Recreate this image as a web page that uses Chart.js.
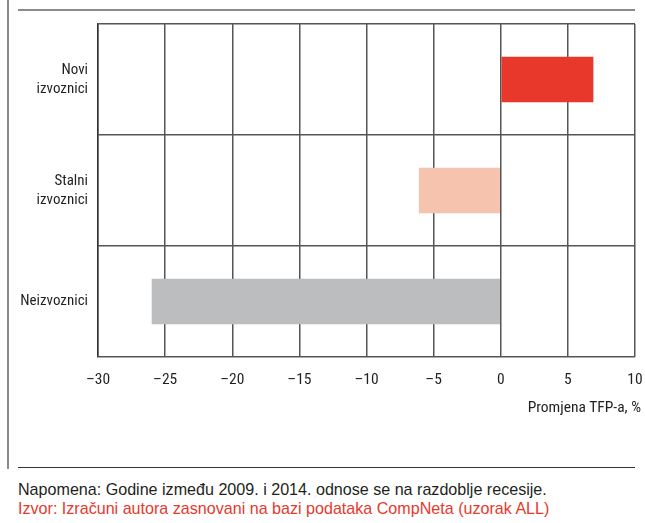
<!DOCTYPE html>
<html>
<head>
<meta charset="utf-8">
<script src="https://cdn.jsdelivr.net/npm/chart.js@4"></script>
<style>
    body { margin: 0; background: #fff; width: 645px; height: 523px; position: relative; overflow: hidden; }
    #wrap { position: absolute; left: 0; top: 0; width: 645px; height: 430px; }
    .vline { position: absolute; left: 7px; top: 0; width: 2px; height: 469px; background: #8a8a8a; }
    .topline { position: absolute; left: 18px; top: 9px; width: 617px; height: 2px; background: #8a8a8a; }
    .sepline { position: absolute; left: 18px; top: 467px; width: 617px; height: 1px; background: #333; }
    .note { position: absolute; left: 18px; font-family: "Liberation Sans", Arial, sans-serif; font-size: 16.1px; white-space: nowrap; }
    .axisTitle { position: absolute; right: 4px; top: 398px; font-family: "Liberation Sans Narrow", "Roboto Condensed", Roboto, sans-serif; font-size: 15.5px; color: #231f20; white-space: nowrap; }
</style>
</head>
<body>
<div class="vline"></div>
<div class="topline"></div>
<div id="wrap"><canvas id="tfpChart"></canvas></div>
<div class="axisTitle">Promjena TFP-a, %</div>
<div class="sepline"></div>
<div class="note" style="top:480px;color:#231f20;">Napomena: Godine između 2009. i 2014. odnose se na razdoblje recesije.</div>
<div class="note" style="top:499px;color:#e8382b;">Izvor: Izračuni autora zasnovani na bazi podataka CompNeta (uzorak ALL)</div>
<script>
const categories = [["Novi", "izvoznici"], ["Stalni", "izvoznici"], "Neizvoznici"];
const tfpChange = [6.9, -6.1, -26];
const barColors = ["#e8382b", "#f6c3ae", "#bcbdbf"];
const xTicks = [-30, -25, -20, -15, -10, -5, 0, 5, 10];

const narrowFont = "'Liberation Sans Narrow', 'Roboto Condensed', Roboto, sans-serif";

new Chart(document.getElementById("tfpChart").getContext("2d"), {
    type: "bar",
    data: {
        labels: categories,
        datasets: [{
            data: tfpChange,
            backgroundColor: barColors,
            barPercentage: 0.41,
            categoryPercentage: 1
        }]
    },
    options: {
        responsive: true,
        maintainAspectRatio: false,
        animation: false,
        indexAxis: "y",
        layout: { padding: { top: 24, right: 10, left: 0, bottom: 0 } },
        plugins: {
            legend: { display: false },
            tooltip: { enabled: false }
        },
        scales: {
            x: {
                min: -30,
                max: 10,
                afterBuildTicks: scale => { scale.ticks = xTicks.map(v => ({ value: v })); },
                afterFit: scale => {
                    scale.height = 73;
                    scale.paddingLeft = 0;
                    scale.paddingRight = 0;
                },
                grid: { color: "#555", lineWidth: 1.5, drawTicks: false },
                border: { display: false },
                ticks: {
                    padding: 14,
                    color: "#231f20",
                    font: { family: narrowFont, size: 15.5 },
                    callback: v => String(v).replace("-", "\u2013")
                }
            },
            y: {
                afterFit: scale => { scale.width = 98; },
                grid: { color: "#555", lineWidth: 1.5, drawTicks: false, offset: true },
                border: { color: "#333", width: 1.5 },
                ticks: {
                    padding: 10,
                    color: "#231f20",
                    font: { family: narrowFont, size: 15, lineHeight: 1.25 }
                }
            }
        }
    }
});
</script>
</body>
</html>
